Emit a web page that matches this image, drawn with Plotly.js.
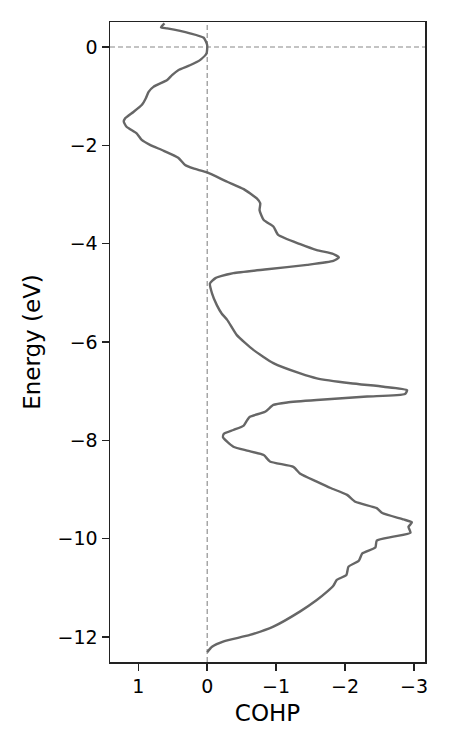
<!DOCTYPE html>
<html>
<head>
<meta charset="utf-8">
<script src="https://cdn.plot.ly/plotly-3.0.1.min.js"></script>
<style>
  html, body { margin: 0; padding: 0; background: #fff; }
</style>
</head>
<body>
<div id="cohpPlot" style="width:450px;height:750px;"></div>
<script>
// Energy levels (eV), read top to bottom off the picture.
const energy = [
  0.48, 0.40, 0.38, 0.28, 0.19, 0.04, -0.13, -0.26, -0.37, -0.47,
  -0.57, -0.67, -0.81, -0.91, -1.04, -1.18, -1.32, -1.45, -1.52, -1.62,
  -1.76, -1.89, -1.99, -2.11, -2.25, -2.40, -2.47, -2.55, -2.74, -2.89,
  -3.08, -3.18, -3.32, -3.52, -3.65, -3.82, -4.01, -4.13, -4.21, -4.28,
  -4.35, -4.43, -4.52, -4.60, -4.70, -4.81, -5.01, -5.25, -5.42, -5.55,
  -5.86, -6.16, -6.43, -6.64, -6.74, -6.84, -6.91, -6.98, -7.06, -7.11,
  -7.18, -7.23, -7.28, -7.42, -7.52, -7.59, -7.70, -7.79, -7.87, -7.94,
  -8.13, -8.21, -8.30, -8.43, -8.54, -8.68, -8.84, -8.97, -9.11, -9.25,
  -9.38, -9.48, -9.61, -9.67, -9.76, -9.88, -9.96, -10.04, -10.18, -10.30,
  -10.45, -10.57, -10.74, -10.84, -10.96, -11.08, -11.25, -11.48, -11.79, -11.96,
  -12.09, -12.20, -12.31
];

// COHP value at each energy.
const cohp = [
  0.62, 0.67, 0.58, 0.25, 0.05, 0.00, 0.01, 0.10, 0.25, 0.42,
  0.51, 0.58, 0.78, 0.85, 0.89, 0.95, 1.07, 1.19, 1.21, 1.17,
  1.02, 0.95, 0.83, 0.63, 0.42, 0.32, 0.20, 0.00, -0.29, -0.53,
  -0.72, -0.77, -0.76, -0.82, -0.96, -1.03, -1.35, -1.59, -1.83, -1.91,
  -1.83, -1.45, -0.87, -0.38, -0.12, -0.04, -0.07, -0.14, -0.21, -0.29,
  -0.43, -0.67, -0.96, -1.35, -1.59, -2.08, -2.56, -2.90, -2.87, -2.32,
  -1.59, -1.16, -0.96, -0.84, -0.62, -0.58, -0.53, -0.38, -0.24, -0.23,
  -0.38, -0.58, -0.82, -0.91, -1.25, -1.35, -1.59, -1.79, -2.03, -2.15,
  -2.46, -2.54, -2.85, -2.97, -2.92, -2.95, -2.70, -2.46, -2.44, -2.25,
  -2.20, -2.05, -2.02, -1.88, -1.83, -1.74, -1.59, -1.35, -0.96, -0.62,
  -0.24, -0.07, 0.00
];

const xTicks = [1, 0, -1, -2, -3];
const yTicks = [0, -2, -4, -6, -8, -10, -12];

const axisStyle = {
  showline: true,
  mirror: true,
  linecolor: '#222',
  linewidth: 1.5,
  ticks: 'outside',
  ticklen: 7,
  tickwidth: 1.5,
  tickcolor: '#222',
  showgrid: false,
  zeroline: false
};

const data = [{
  x: cohp,
  y: energy,
  mode: 'lines',
  line: { color: '#666666', width: 2.4, shape: 'spline', smoothing: 0.5 },
  hoverinfo: 'skip'
}];

const refLine = { color: '#888888', width: 1.1, dash: '5px,3px' };

const layout = {
  width: 450,
  height: 750,
  margin: { l: 110, r: 25, t: 22, b: 88 },
  paper_bgcolor: '#fff',
  plot_bgcolor: '#fff',
  showlegend: false,
  font: { family: 'DejaVu Sans', size: 19, color: '#000' },
  xaxis: Object.assign({}, axisStyle, {
    range: [1.41, -3.16],
    tickvals: xTicks,
    title: { text: 'COHP', standoff: 8 }
  }),
  yaxis: Object.assign({}, axisStyle, {
    range: [-12.51, 0.51],
    tickvals: yTicks,
    title: { text: 'Energy (eV)', standoff: 10 }
  }),
  shapes: [
    { type: 'line', xref: 'x', yref: 'paper', x0: 0, x1: 0, y0: 0, y1: 1, line: refLine, layer: 'below' },
    { type: 'line', xref: 'paper', yref: 'y', x0: 0, x1: 1, y0: 0, y1: 0, line: refLine, layer: 'below' }
  ]
};

Plotly.newPlot('cohpPlot', data, layout, { displayModeBar: false, staticPlot: true });
</script>
</body>
</html>
